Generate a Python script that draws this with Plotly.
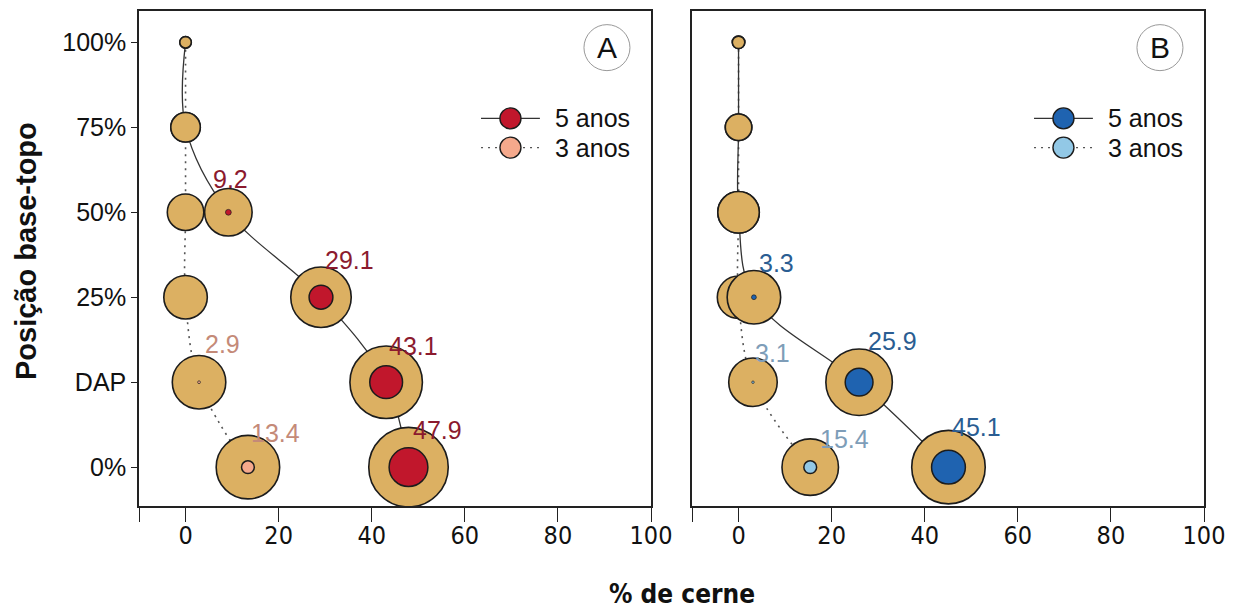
import plotly.graph_objects as go

# ---------------- data ----------------
posicoes = ["0%", "DAP", "25%", "50%", "75%", "100%"]          # bottom -> top
ordem = ["100%", "75%", "50%", "25%", "DAP", "0%"]              # order of the value lists below

# % de cerne (A)
cerne_A5 = [0, 0, 9.2, 29.1, 43.1, 47.9]
cerne_A3 = [0, 0, 0, 0, 2.9, 13.4]
# % de cerne (B)
cerne_B5 = [0, 0, 0, 3.3, 25.9, 45.1]
cerne_B3 = [0, 0, 0, 0, 3.1, 15.4]

# bubble sizes (relative diameter of stem / heartwood)
tronco_A5 = [13, 31, 49, 62, 74, 81]
tronco_A3 = [13, 31, 38, 45, 55, 65]
nucleo_A5 = [0, 0, 7, 25, 34, 40]
nucleo_A3 = [0, 0, 0, 0, 4, 14]
tronco_B5 = [14, 28, 43, 55, 68, 75]
tronco_B3 = [14, 28, 43, 44, 50, 58]
nucleo_B5 = [0, 0, 0, 6, 29, 35]
nucleo_B3 = [0, 0, 0, 0, 3, 14]

x_ticks = [0, 20, 40, 60, 80, 100]
# --------------------------------------

ymap = {p: i for i, p in enumerate(posicoes)}
yvals = [ymap[p] for p in ordem]

TAN = "#DCB062"
EDGE = "#1c1c1c"
FONT = "Liberation Sans, Arial, sans-serif"
NARROW = "'Liberation Sans Narrow', 'Arial Narrow', 'DejaVu Sans Condensed', 'Liberation Sans', sans-serif"
COL = {
    "A5": ("#C1172C", "#8B1A2E"),
    "A3": ("#F5A98C", "#C48A78"),
    "B5": ("#1F63B0", "#2A5D92"),
    "B3": ("#92C8E6", "#7E9DB8"),
}

# label offsets (px) for each labelled point: (dx, dy)
label_off = {
    ("A5", 9.2): (2, 33), ("A5", 29.1): (29, 37), ("A5", 43.1): (27, 36), ("A5", 47.9): (29, 37),
    ("A3", 2.9): (23, 38), ("A3", 13.4): (28, 34),
    ("B5", 3.3): (23, 34), ("B5", 25.9): (33, 41), ("B5", 45.1): (28, 40),
    ("B3", 3.1): (20, 29), ("B3", 15.4): (34, 28),
}

W, H = 1235, 609
ml, mr, mt, mb = 139, 31, 9, 103
pw, ph = W - ml - mr, H - mt - mb

fig = go.Figure()
annotations = []
shapes = []

panels = [
    ("A", "x", "y", (cerne_A5, tronco_A5, nucleo_A5), (cerne_A3, tronco_A3, nucleo_A3)),
    ("B", "x2", "y2", (cerne_B5, tronco_B5, nucleo_B5), (cerne_B3, tronco_B3, nucleo_B3)),
]

DOT = "2px,5px"

for name, xa, ya, s5, s3 in panels:
    # connecting lines
    fig.add_trace(go.Scatter(x=s3[0], y=yvals, mode="lines", xaxis=xa, yaxis=ya,
                             line=dict(color="#555555", width=1.6, dash=DOT, shape="spline"),
                             showlegend=False, hoverinfo="skip"))
    fig.add_trace(go.Scatter(x=s5[0], y=yvals, mode="lines", xaxis=xa, yaxis=ya,
                             line=dict(color="#333333", width=1.3, shape="spline"),
                             showlegend=False, hoverinfo="skip"))
    for key, s in ((name + "3", s3), (name + "5", s5)):
        cx, tr, nu = s
        fig.add_trace(go.Scatter(x=cx, y=yvals, mode="markers", xaxis=xa, yaxis=ya,
                                 marker=dict(size=[t - 1.5 for t in tr], color=TAN, opacity=1,
                                             line=dict(color=EDGE, width=1.6)),
                                 showlegend=False, hoverinfo="skip"))
    for key, s in ((name + "3", s3), (name + "5", s5)):
        cx, tr, nu = s
        xi = [c for c, n in zip(cx, nu) if n > 0]
        yi = [y for y, n in zip(yvals, nu) if n > 0]
        si = [max(n - 1.2, 2.5) for n in nu if n > 0]
        lw = [1.5 if n >= 10 else 0.7 for n in nu if n > 0]
        fig.add_trace(go.Scatter(x=xi, y=yi, mode="markers", xaxis=xa, yaxis=ya,
                                 marker=dict(size=si, color=COL[key][0], opacity=1,
                                             line=dict(color=EDGE, width=lw)),
                                 showlegend=False, hoverinfo="skip"))
        for c, y in zip(cx, yvals):
            if c > 0:
                dx, dy = label_off[(key, c)]
                annotations.append(dict(x=c, y=y, xref=xa, yref=ya, text=f"{c:.1f}",
                                        showarrow=False, xshift=dx, yshift=dy,
                                        font=dict(size=25, color=COL[key][1], family=FONT)))

    # legend (manual)
    xd = xa + " domain"
    yd = ya + " domain"
    for yy, key, dash, lc in ((0.783, name + "5", "solid", "#333333"), (0.724, name + "3", DOT, "#555555")):
        shapes.append(dict(type="line", xref=xd, yref=yd, x0=0.668, x1=0.783, y0=yy, y1=yy,
                           line=dict(color=lc, width=1.4, dash=dash)))
        shapes.append(dict(type="circle", xref=xd, yref=yd, xsizemode="pixel", ysizemode="pixel",
                           xanchor=0.7255, yanchor=yy, x0=-10.5, x1=10.5, y0=-10.5, y1=10.5,
                           fillcolor=COL[key][0], line=dict(color=EDGE, width=1.4)))
        annotations.append(dict(x=0.808, y=yy, xref=xd, yref=yd, xanchor="left", yanchor="middle",
                                text=("5 anos" if key.endswith("5") else "3 anos"), showarrow=False,
                                font=dict(size=25, color="#111111", family=FONT)))
    # panel letter
    shapes.append(dict(type="circle", xref=xd, yref=yd, xsizemode="pixel", ysizemode="pixel",
                       xanchor=0.914, yanchor=0.926, x0=-23, x1=23, y0=-23, y1=23,
                       line=dict(color="#999999", width=1)))
    annotations.append(dict(x=0.914, y=0.926, xref=xd, yref=yd, text=name, showarrow=False,
                            xanchor="center", yanchor="middle",
                            font=dict(size=30, color="#111111", family=FONT)))

# axis titles (positions given in pixels, converted to paper fractions)
annotations.append(dict(x=(26 - ml) / pw, y=(H - mb - 250) / ph, xref="paper", yref="paper",
                        xanchor="center", yanchor="middle",
                        text="<b>Posição base-topo</b>", showarrow=False, textangle=-90,
                        font=dict(size=29, color="#111111", family=FONT)))
annotations.append(dict(x=(682 - ml) / pw, y=(H - mb - 594) / ph, xref="paper", yref="paper",
                        xanchor="center", yanchor="middle",
                        text="<b>% de cerne</b>", showarrow=False,
                        font=dict(size=26, color="#111111", family=NARROW)))

xt_vals = [-10] + x_ticks
xt_text = [""] + [str(v) for v in x_ticks]

common_x = dict(range=[-10, 100], tickvals=xt_vals, ticktext=xt_text, ticks="outside", ticklen=14,
                tickwidth=1.2, tickcolor="#222222", showline=True, linecolor="#222222", linewidth=1.5,
                mirror=True, showgrid=False, zeroline=False, ticklabelstandoff=-8,
                tickfont=dict(size=25, color="#111111", family=NARROW))
common_y = dict(range=[-0.457, 5.369], tickvals=list(range(6)), ticktext=posicoes,
                showline=True, linecolor="#222222", linewidth=1.5, mirror=True,
                showgrid=False, zeroline=False)

fig.update_layout(
    width=W, height=H,
    margin=dict(l=ml, r=mr, t=mt, b=mb),
    paper_bgcolor="white", plot_bgcolor="white",
    xaxis=dict(domain=[0, 512 / pw], anchor="y", **common_x),
    xaxis2=dict(domain=[(692 - ml) / pw, 1], anchor="y2", **common_x),
    yaxis=dict(domain=[0, 1], anchor="x", ticks="outside", ticklen=6, tickwidth=1.2, tickcolor="#222222",
               tickfont=dict(size=25, color="#111111", family=FONT),
               **common_y),
    yaxis2=dict(domain=[0, 1], anchor="x2", ticks="", showticklabels=False, **common_y),
    annotations=annotations,
    shapes=shapes,
    showlegend=False,
)

fig.write_html("out.html")
